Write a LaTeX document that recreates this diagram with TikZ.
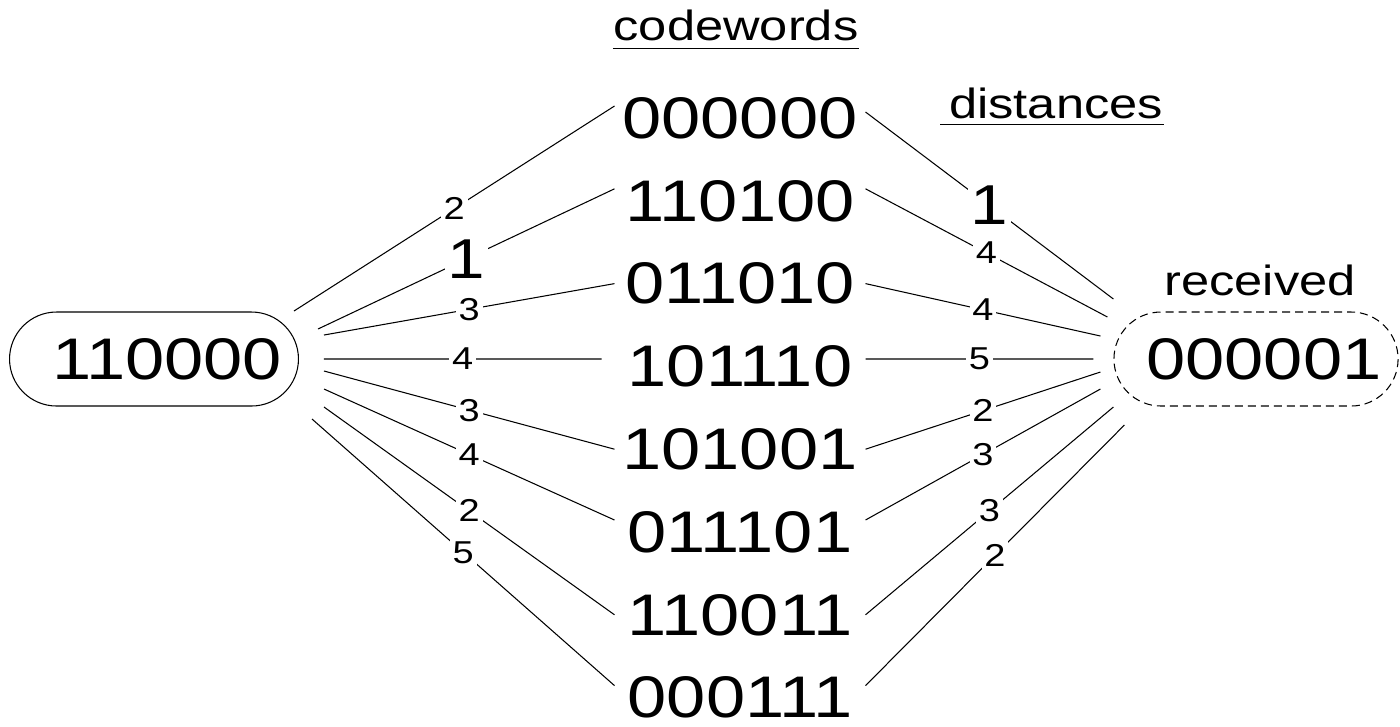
\documentclass[tikz,border=0pt]{standalone}
\usepackage{fontspec}
\setmainfont[FakeStretch=1.2]{Liberation Sans}
\usetikzlibrary{shapes.misc, positioning}

\begin{document}
\begin{tikzpicture}[
    x=0.1mm, y=-0.1mm,
    every node/.style={font=\fontsize{16.7}{20}\selectfont},
    word/.style={minimum width=2.51cm, minimum height=8.28mm, inner sep=0pt, outer sep=0pt},
    pill/.style={draw, rounded rectangle, minimum height=0.94cm, line width=0.3pt},
    dist/.style={fill=white, inner sep=0.8pt, font=\fontsize{9}{10}\selectfont},
    best/.style={fill=white, inner sep=0.8pt, font=\fontsize{16}{18}\selectfont},
    head/.style={inner sep=0pt, font=\fontsize{12}{14}\selectfont},
    link/.style={line width=0.3pt},
]
    \useasboundingbox (0,0) rectangle (1400,726);

    % Sent word
    \node[pill] (sent) at (154,359) {\hspace*{2.6mm}110000};
    % Codewords
    \node[word] (c1) at (740,118) {000000};
    \node[word, below=0pt of c1] (c2) {110100};
    \node[word, below=0pt of c2] (c3) {011010};
    \node[word, below=0pt of c3] (c4) {101110};
    \node[word, below=0pt of c4] (c5) {101001};
    \node[word, below=0pt of c5] (c6) {011101};
    \node[word, below=0pt of c6] (c7) {110011};
    \node[word, below=0pt of c7] (c8) {000111};
    % Received word
    \node[pill, dash pattern=on 0.8mm off 0.5mm] (recv) at (1256,359) {\hspace*{1.6mm}000001};

    % Titles
    \node[head] (cwhead) at (736,25) {codewords};
    \node[head] (dhead) at (1056,103) {distances};
    \node[head] (rhead) at (1260,280) {received};
    \draw[link] ([yshift=-0.7mm]cwhead.south west) -- ([yshift=-0.7mm]cwhead.south east);
    \draw[link] ([xshift=-0.8mm, yshift=-0.5mm]dhead.south west) -- ([yshift=-0.5mm]dhead.south east);

    % Distances from the sent word
    \draw[link] ([xshift=-0.5mm, yshift=4.8mm]sent.east) -- node[dist] {2} ([yshift=1.2mm]c1.west);
    \draw[link] ([xshift=1.9mm, yshift=3mm]sent.east) -- node[best] {1} ([yshift=1.2mm]c2.west);
    \draw[link] ([xshift=2.5mm, yshift=2.4mm]sent.east) -- node[dist] {3} (c3.west);
    \draw[link] ([xshift=2.5mm]sent.east) -- node[dist] {4} ([xshift=-1.3mm, yshift=0.74mm]c4.west);
    \draw[link] ([xshift=2.5mm, yshift=-1.2mm]sent.east) -- node[dist] {3} (c5.west);
    \draw[link] ([xshift=2.5mm, yshift=-3mm]sent.east) -- node[dist] {4} ([yshift=1.2mm]c6.west);
    \draw[link] ([xshift=2.5mm, yshift=-4.8mm]sent.east) -- node[dist] {2} (c7.west);
    \draw[link] ([xshift=1.3mm, yshift=-6mm]sent.east) -- node[dist] {5} ([yshift=1.2mm]c8.west);

    % Distances to the received word
    \draw[link] ([yshift=0.6mm]c1.east) -- node[best] {1} ([yshift=6mm]recv.west);
    \draw[link] ([yshift=1.2mm]c2.east) -- node[dist] {4} ([xshift=-0.6mm, yshift=4.2mm]recv.west);
    \draw[link] (c3.east) -- node[dist] {4} ([xshift=-1.3mm, yshift=2.3mm]recv.west);
    \draw[link] ([yshift=0.74mm]c4.east) -- node[dist] {5} ([xshift=-2mm]recv.west);
    \draw[link] (c5.east) -- node[dist] {2} ([xshift=-1.3mm, yshift=-1.3mm]recv.west);
    \draw[link] ([yshift=1.2mm]c6.east) -- node[dist] {3} ([xshift=-1.3mm, yshift=-3mm]recv.west);
    \draw[link] (c7.east) -- node[dist] {3} ([yshift=-4.8mm]recv.west);
    \draw[link] ([yshift=1.2mm]c8.east) -- node[dist] {2} ([xshift=1.1mm, yshift=-6.6mm]recv.west);
\end{tikzpicture}
\end{document}
